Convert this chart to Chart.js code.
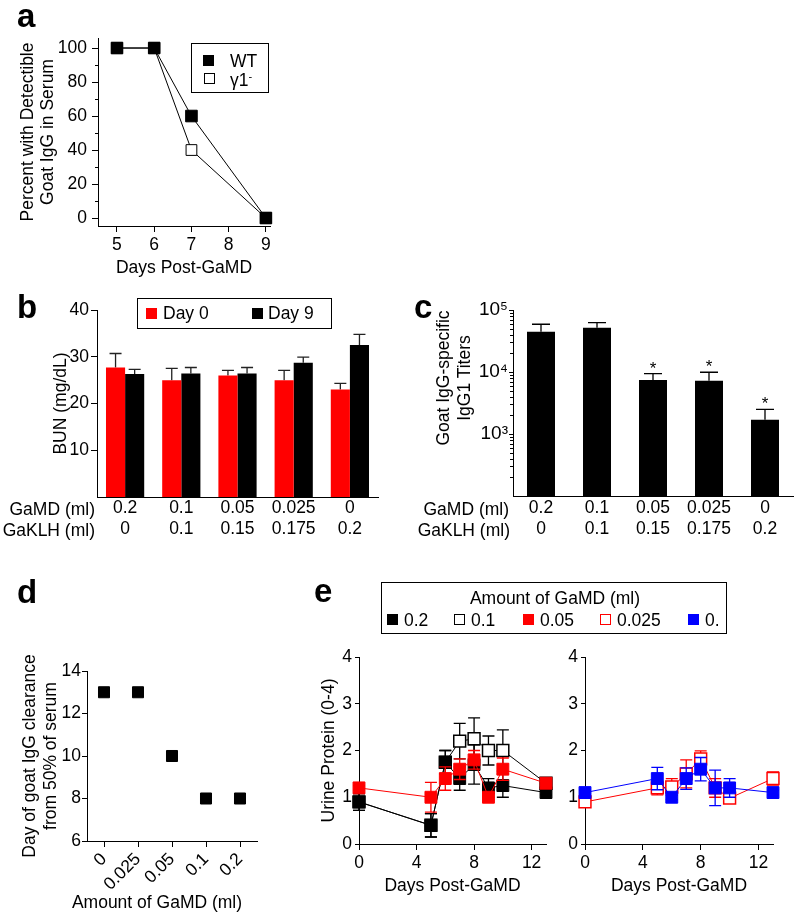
<!DOCTYPE html>
<html>
<head>
<meta charset="utf-8">
<script src="https://cdn.jsdelivr.net/npm/chart.js@4.4.0/dist/chart.umd.min.js"></script>
<style>
body { margin: 0; background: #fff; }
#fig { position: relative; width: 800px; height: 920px; font-family: 'Liberation Sans', Arial, sans-serif; color: #000; overflow: hidden; }
#fig canvas { position: absolute; left: 0; top: 0; }
.lbl { position: absolute; font-weight: bold; font-size: 33px; line-height: 1; }
.txt { position: absolute; font-size: 17.5px; line-height: 1; white-space: nowrap; }
.box { position: absolute; border: 1px solid #000; box-sizing: border-box; }
.sw { position: absolute; width: 11px; height: 11px; box-sizing: border-box; }
</style>
</head>
<body>
<div id="fig">
  <canvas id="cA" width="800" height="920"></canvas>
  <canvas id="cB" width="800" height="920"></canvas>
  <canvas id="cC" width="800" height="920"></canvas>
  <canvas id="cD" width="800" height="920"></canvas>
  <canvas id="cE1" width="800" height="920"></canvas>
  <canvas id="cE2" width="800" height="920"></canvas>

  <div class="lbl" style="left:17px;top:-1px">a</div>
  <div class="lbl" style="left:17px;top:290px">b</div>
  <div class="lbl" style="left:414px;top:290px">c</div>
  <div class="lbl" style="left:17px;top:575px">d</div>
  <div class="lbl" style="left:314px;top:574px">e</div>

  <div id="legA" class="box" style="left:191px;top:43px;width:78px;height:50px"></div>
  <div id="legB" class="box" style="left:137px;top:298px;width:195px;height:31px"></div>
  <div id="legE" class="box" style="left:381px;top:582px;width:346px;height:52px"></div>

  <div class="txt" style="right:705px;top:501px">GaMD (ml)</div>
  <div class="txt" style="right:705px;top:522px">GaKLH (ml)</div>
  <div class="txt" style="right:291px;top:501px">GaMD (ml)</div>
  <div class="txt" style="right:290px;top:522px">GaKLH (ml)</div>

  <div class="txt" style="left:354px;top:357px;width:200px;height:42px;line-height:21px;text-align:center;transform:rotate(-90deg)">Goat IgG-specific<br>IgG1 Titers</div>
  <div class="txt" style="left:57px;top:894px;width:200px;text-align:center">Amount of GaMD (ml)</div>
</div>

<script>
// ---- panel a
var daysA = [5, 6, 7, 9];
var wtA = [100, 100, 60, 0];
var g1A = [100, 100, 40, 0];
var dayTicksA = [5, 6, 7, 8, 9];
var pctTicksA = [0, 20, 40, 60, 80, 100];
var pctMinorA = [10, 30, 50, 70, 90];

// ---- panel b
var gamd = ['0.2', '0.1', '0.05', '0.025', '0'];
var gaklh = ['0', '0.1', '0.15', '0.175', '0.2'];
var bunDay0 = [27.7, 25.0, 26.0, 25.0, 23.0];
var bunDay0Err = [3.0, 2.5, 1.1, 2.1, 1.3];
var bunDay9 = [26.3, 26.4, 26.4, 28.7, 32.5];
var bunDay9Err = [1.0, 1.3, 1.3, 1.2, 2.3];
var bunTicks = [10, 20, 30, 40];

// ---- panel c
var titers = [44700, 51900, 7400, 7200, 1700];
var titersErr = [14200, 10500, 2000, 2700, 800];
var titersStar = [false, false, true, true, true];
var titerTicks = [1000, 10000, 100000];
var titerMinor = [200, 300, 400, 500, 600, 700, 800, 900,
  2000, 3000, 4000, 5000, 6000, 7000, 8000, 9000,
  20000, 30000, 40000, 50000, 60000, 70000, 80000, 90000];

// ---- panel d
var doseD = ['0', '0.025', '0.05', '0.1', '0.2'];
var clearDay = [13, 13, 10, 8, 8];
var clearTicks = [6, 8, 10, 12, 14];

// ---- panel e
var daysE = [0, 5, 6, 7, 8, 9, 10, 13];
var up02 = [0.9, 0.4, 1.75, 1.4, 1.7, 1.2, 1.25, 1.1];
var up02Err = [0.18, 0.25, 0.25, 0.25, 0.42, 0.2, 0.25, 0.05];
var up01 = [0.9, 0.4, 1.75, 2.2, 2.25, 2.0, 2.0, 1.3];
var up01Err = [0.18, 0.25, 0.25, 0.38, 0.45, 0.31, 0.44, 0.1];
var up005 = [1.2, 1.0, 1.4, 1.6, 1.8, 1.0, 1.6, 1.3];
var up005Err = [0.05, 0.32, 0.25, 0.22, 0.2, 0.05, 0.24, 0.1];
var up0025 = [0.9, 1.2, 1.22, 1.5, 1.82, 1.2, 0.98, 1.4];
var up0025Err = [0.05, 0.15, 0.18, 0.3, 0.17, 0.2, 0.05, 0.14];
var up0 = [1.1, 1.4, 1.0, 1.4, 1.6, 1.2, 1.2, 1.1];
var up0Err = [0.05, 0.24, 0.05, 0.23, 0.25, 0.38, 0.2, 0.05];
var dayTicksE = [0, 4, 8, 12];
var upTicks = [0, 1, 2, 3, 4];

var RED = '#ff0000', BLUE = '#0000ff';

Chart.defaults.font.family = "'Liberation Sans', Arial, sans-serif";
Chart.defaults.font.size = 17.5;
Chart.defaults.color = '#000';
Chart.defaults.animation = false;
Chart.defaults.plugins.legend.display = false;
Chart.defaults.plugins.tooltip.enabled = false;

// error bars, drawn just before the dataset so markers sit on top
var errorBars = {
  id: 'errorBars',
  beforeDatasetDraw: function(chart, args) {
    var ds = chart.data.datasets[args.index];
    if (!ds.errs) return;
    var ys = chart.scales[args.meta.yAxisID];
    var ctx = chart.ctx;
    ctx.save();
    ctx.strokeStyle = ds.errColor || ds.borderColor;
    ctx.lineWidth = 1.3;
    args.meta.data.forEach(function(el, i) {
      var v = ds.data[i];
      if (typeof v === 'object') v = v.y;
      var e = ds.errs[i];
      var cap = ds.cap || 6;
      var top = ys.getPixelForValue(v + e);
      var bot = ys.getPixelForValue(ds.upOnly ? v : v - e);
      ctx.beginPath();
      ctx.moveTo(el.x, bot);
      ctx.lineTo(el.x, top);
      ctx.moveTo(el.x - cap, top);
      ctx.lineTo(el.x + cap, top);
      if (!ds.upOnly) {
        ctx.moveTo(el.x - cap, bot);
        ctx.lineTo(el.x + cap, bot);
      }
      ctx.stroke();
      if (ds.stars && ds.stars[i]) {
        ctx.fillStyle = '#000';
        ctx.font = "17px 'Liberation Sans', Arial, sans-serif";
        ctx.textAlign = 'center';
        ctx.textBaseline = 'alphabetic';
        ctx.fillText('*', el.x, top);
      }
    });
    ctx.restore();
  }
};

// short minor tick marks on a left axis
var minorTicks = {
  id: 'minorTicks',
  afterDraw: function(chart, args, opts) {
    if (!opts.values) return;
    var s = chart.scales[opts.axis || 'y'];
    var ctx = chart.ctx;
    ctx.save();
    ctx.strokeStyle = '#000';
    ctx.lineWidth = 1;
    ctx.beginPath();
    opts.values.forEach(function(v) {
      var y = Math.round(s.getPixelForValue(v)) + 0.5;
      ctx.moveTo(s.right, y);
      ctx.lineTo(s.right - (opts.len || 3), y);
    });
    ctx.stroke();
    ctx.restore();
  }
};

function pad(L, T, R, B, yW, xH) {
  return { left: L - yW, top: T, right: 800 - R, bottom: 920 - B - xH };
}
function pts(xs, ys) {
  return xs.map(function(x, i) { return { x: x, y: ys[i] }; });
}
function fixed(list) {
  return function(s) { s.ticks = list.map(function(v) { return { value: v }; }); };
}
var axisGrid = { drawOnChartArea: false, color: '#000', tickLength: 6 };
var axisBorder = { color: '#000', width: 1 };

// ---------- a
new Chart(document.getElementById('cA'), {
  type: 'line',
  data: {
    datasets: [
      { label: 'WT', data: pts(daysA, wtA), borderColor: '#000', borderWidth: 1, pointStyle: 'rect',
        pointRadius: 8.2, pointBackgroundColor: '#000', pointBorderColor: '#000', clip: false },
      { label: 'γ1-', data: pts(daysA, g1A), borderColor: '#000', borderWidth: 1, pointStyle: 'rect',
        pointRadius: 7.6, pointBackgroundColor: '#fff', pointBorderColor: '#000', pointBorderWidth: 1, clip: false }
    ]
  },
  options: {
    responsive: false,
    layout: { padding: pad(98, 38, 270, 226, 80, 53) },
    scales: {
      x: { type: 'linear', min: 4.49, max: 9.11, afterBuildTicks: fixed(dayTicksA),
        afterFit: function(s) { s.height = 53; },
        grid: axisGrid, border: axisBorder, ticks: { padding: 3 },
        title: { display: true, text: 'Days Post-GaMD', padding: 0 } },
      y: { min: -4.7, max: 105.9, afterBuildTicks: fixed(pctTicksA),
        afterFit: function(s) { s.width = 80; },
        grid: axisGrid, border: axisBorder, ticks: { padding: 5 },
        title: { display: true, text: ['Percent with Detectible', 'Goat IgG in Serum'], padding: 0, font: { lineHeight: 1.14 } } }
    },
    plugins: { minorTicks: { axis: 'y', values: pctMinorA, len: 3 } }
  },
  plugins: [minorTicks]
});

// ---------- b
new Chart(document.getElementById('cB'), {
  type: 'bar',
  data: {
    labels: gamd.map(function(g, i) { return [g, gaklh[i]]; }),
    datasets: [
      { label: 'Day 0', data: bunDay0, backgroundColor: RED, errs: bunDay0Err, upOnly: true, errColor: '#222', cap: 6 },
      { label: 'Day 9', data: bunDay9, backgroundColor: '#000', errs: bunDay9Err, upOnly: true, errColor: '#222', cap: 6 }
    ]
  },
  options: {
    responsive: false,
    barPercentage: 1,
    categoryPercentage: 0.68,
    layout: { padding: pad(97, 310, 378, 497, 46, 46) },
    scales: {
      x: { afterFit: function(s) { s.height = 46; },
        grid: { drawOnChartArea: false, drawTicks: false, color: '#000' }, border: axisBorder,
        ticks: { padding: 1, font: { lineHeight: 1.2 }, maxRotation: 0 } },
      y: { min: 0, max: 40, afterBuildTicks: fixed(bunTicks),
        afterFit: function(s) { s.width = 46; },
        grid: axisGrid, border: axisBorder, ticks: { padding: 2 },
        title: { display: true, text: 'BUN (mg/dL)', padding: 0 } }
    }
  },
  plugins: [errorBars]
});

// ---------- c
var sup = { 3: '\u00B3', 4: '\u2074', 5: '\u2075' };
new Chart(document.getElementById('cC'), {
  type: 'bar',
  data: {
    labels: gamd.map(function(g, i) { return [g, gaklh[i]]; }),
    datasets: [
      { label: 'Titer', data: titers, backgroundColor: '#000', errs: titersErr, upOnly: true,
        errColor: '#000', cap: 9, stars: titersStar }
    ]
  },
  options: {
    responsive: false,
    barPercentage: 0.5,
    categoryPercentage: 1,
    layout: { padding: pad(513, 310, 793, 496, 60, 46) },
    scales: {
      x: { afterFit: function(s) { s.height = 46; },
        grid: { drawOnChartArea: false, drawTicks: false, color: '#000' }, border: axisBorder,
        ticks: { padding: 1.5, font: { lineHeight: 1.2 }, maxRotation: 0 } },
      y: { type: 'logarithmic', min: 100, max: 100000, afterBuildTicks: fixed(titerTicks),
        afterFit: function(s) { s.width = 60; },
        grid: { drawOnChartArea: false, color: '#000', tickLength: 4 }, border: axisBorder,
        ticks: { padding: 1, font: { size: 19 },
          callback: function(v) { return '10' + sup[Math.round(Math.log10(v))]; } } }
    },
    plugins: { minorTicks: { axis: 'y', values: titerMinor, len: 3 } }
  },
  plugins: [errorBars, minorTicks]
});

// ---------- d
new Chart(document.getElementById('cD'), {
  type: 'line',
  data: {
    labels: doseD,
    datasets: [
      { label: 'Clearance', data: clearDay, showLine: false, pointStyle: 'rect', pointRadius: 7.8,
        pointBackgroundColor: '#000', pointBorderColor: '#000', clip: false }
    ]
  },
  options: {
    responsive: false,
    layout: { padding: pad(87, 671, 257, 841, 67, 72) },
    scales: {
      x: { offset: true, afterFit: function(s) { s.height = 72; },
        grid: { drawOnChartArea: false, color: '#000', tickLength: 6, offset: false }, border: axisBorder,
        ticks: { padding: 2, minRotation: 45, maxRotation: 45 } },
      y: { min: 6, max: 14, afterBuildTicks: fixed(clearTicks),
        afterFit: function(s) { s.width = 67; },
        grid: { drawOnChartArea: false, color: '#000', tickLength: 5 }, border: axisBorder, ticks: { padding: 1 },
        title: { display: true, text: ['Day of goat IgG clearance', 'from 50% of serum'], padding: 0, font: { lineHeight: 1.2 } } }
    }
  }
});

// ---------- e
function eSeries(label, vals, errs, color, filled) {
  return {
    label: label, data: pts(daysE, vals), errs: errs, cap: 6,
    borderColor: color, borderWidth: 1, errColor: color,
    pointStyle: 'rect', pointRadius: 8.4,
    pointBackgroundColor: filled ? color : '#fff', pointBorderColor: color,
    pointBorderWidth: filled ? 1 : 1.5, clip: false
  };
}
function eOptions(L, R, withTitle) {
  return {
    responsive: false,
    layout: { padding: pad(L, 657, R, 844, 40, 53) },
    scales: {
      x: { type: 'linear', min: 0, max: 13, afterBuildTicks: fixed(dayTicksE),
        afterFit: function(s) { s.height = 53; },
        grid: { drawOnChartArea: false, color: '#000', tickLength: 6 }, border: axisBorder, ticks: { padding: 3 },
        title: { display: true, text: 'Days Post-GaMD', padding: 0 } },
      y: { min: 0, max: 4, afterBuildTicks: fixed(upTicks),
        afterFit: function(s) { s.width = 40; },
        grid: { drawOnChartArea: false, color: '#000', tickLength: 4 }, border: axisBorder, ticks: { padding: 3 },
        title: { display: withTitle, text: 'Urine Protein (0-4)', padding: 0 } }
    }
  };
}
new Chart(document.getElementById('cE1'), {
  type: 'line',
  data: {
    datasets: [
      eSeries('0.05', up005, up005Err, RED, true),
      eSeries('0.2', up02, up02Err, '#000', true),
      eSeries('0.1', up01, up01Err, '#000', false)
    ]
  },
  options: eOptions(359, 546, true),
  plugins: [errorBars]
});
new Chart(document.getElementById('cE2'), {
  type: 'line',
  data: {
    datasets: [
      eSeries('0', up0, up0Err, BLUE, true),
      eSeries('0.025', up0025, up0025Err, RED, false)
    ]
  },
  options: eOptions(585, 773, false),
  plugins: [errorBars]
});

// ---------- legends (html)
function swatch(parent, x, y, color, filled) {
  var d = document.createElement('div');
  d.className = 'sw';
  d.style.left = x + 'px';
  d.style.top = y + 'px';
  d.style.background = filled ? color : '#fff';
  d.style.border = (filled ? 1 : 1.5) + 'px solid ' + color;
  parent.appendChild(d);
}
function text(parent, x, y, html, extra) {
  var d = document.createElement('div');
  d.className = 'txt';
  d.style.left = x + 'px';
  d.style.top = y + 'px';
  d.innerHTML = html;
  if (extra) d.style.cssText += extra;
  parent.appendChild(d);
}
var legA = document.getElementById('legA');
swatch(legA, 11, 11, '#000', true);
text(legA, 38, 9, 'WT');
swatch(legA, 12, 29, '#000', false);
text(legA, 38, 27, '\u03B31<sup style="font-size:11px;vertical-align:6px">-</sup>');

var legB = document.getElementById('legB');
swatch(legB, 8, 9, RED, true);
text(legB, 25, 6, 'Day 0');
swatch(legB, 114, 9, '#000', true);
text(legB, 130, 6, 'Day 9');

var legE = document.getElementById('legE');
text(legE, 0, 7, 'Amount of GaMD (ml)', 'width:346px;text-align:center;left:0');
var eLeg = [
  { x: 5, lab: '0.2', c: '#000', f: true },
  { x: 72, lab: '0.1', c: '#000', f: false },
  { x: 141, lab: '0.05', c: RED, f: true },
  { x: 218, lab: '0.025', c: RED, f: false },
  { x: 306, lab: '0.', c: BLUE, f: true }
];
eLeg.forEach(function(it) {
  swatch(legE, it.x, 31, it.c, it.f);
  text(legE, it.x + 17, 29, it.lab);
});
</script>
</body>
</html>
